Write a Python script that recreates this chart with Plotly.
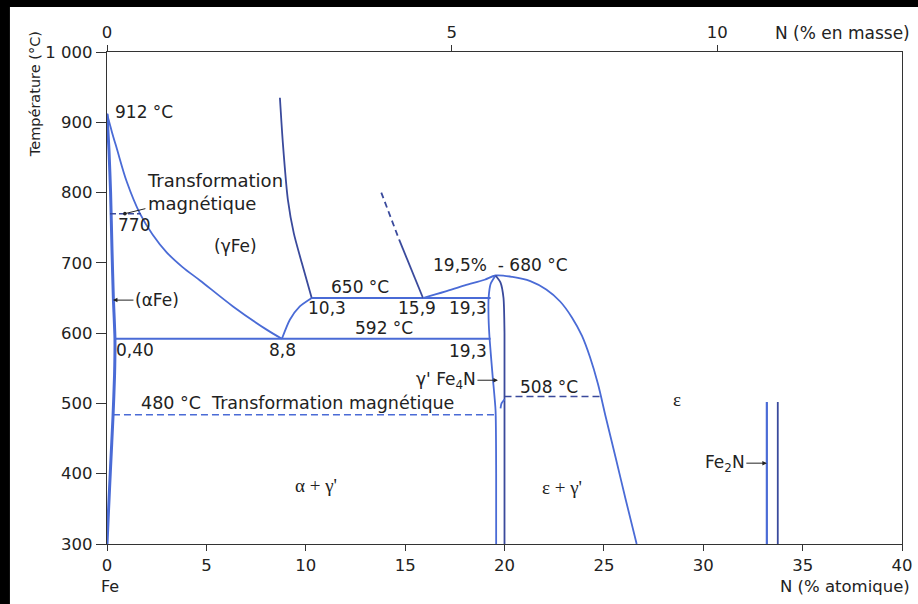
import plotly.graph_objects as go

# ---------------- data ----------------
# x = N (% atomique), T = temperature (°C)
alpha_x = [0, 0.1, 0.18, 0.25, 0.32, 0.4, 0.38, 0.3, 0.18, 0.08, 0]
alpha_T = [912, 860, 800, 720, 650, 592, 540, 480, 410, 350, 300]

a3_x = [0, 0.25, 0.5, 1.0, 1.66, 2.3, 3.0, 3.8, 4.68, 6.34, 8.03, 8.8]
a3_T = [912, 886, 862, 815, 770, 740, 715, 694, 675, 638, 605, 592]

gp_x = [8.8, 9.2, 9.7, 10.3]
gp_T = [592, 619, 638, 650]

ge_x = [8.7, 8.85, 9.1, 9.4, 9.8, 10.3]
ge_T = [935, 870, 790, 742, 700, 650]

eut650_x = [10.3, 19.3]
eut650_T = [650, 650]

eut592_x = [0.4, 19.3]
eut592_T = [592, 592]

l159_x = [14.7, 15.9]
l159_T = [733, 650]
l159d_x = [13.8, 14.7]
l159d_T = [800, 733]

eps_x = [15.9, 17.0, 18.0, 19.0, 19.55, 20.4, 21.3, 22.1, 22.8, 23.4, 23.9, 24.3, 24.7, 25.1, 25.6, 26.1, 26.65]
eps_T = [650, 659, 668, 676, 682, 680, 674, 662, 645, 622, 596, 566, 528, 480, 422, 363, 300]

gpl_x = [19.55, 19.3, 19.2, 19.2, 19.25, 19.4, 19.55, 19.58, 19.58]
gpl_T = [682, 670, 650, 620, 592, 540, 490, 400, 300]

gpr_x = [19.55, 19.8, 19.95, 20.0, 20.0]
gpr_T = [682, 672, 650, 600, 300]

kink_x = [19.8, 19.85, 20.0]
kink_T = [493, 500, 506]

mag480_x = [0.3, 19.55]
mag480_T = [484, 484]

mag508_x = [20.0, 24.8]
mag508_T = [510, 510]

mag770_x = [0.15, 1.7]
mag770_T = [770, 770]

fe2n_a_x = [33.2, 33.2]
fe2n_b_x = [33.75, 33.75]
fe2n_T = [300, 502]

y_ticks = [300, 400, 500, 600, 700, 800, 900, 1000]
y_ticktext = ["300", "400", "500", "600", "700", "800", "900", "1\u00a0000"]
x_ticks = [0, 5, 10, 15, 20, 25, 30, 35, 40]
mass_ticks = [0, 5, 10]


def mass_to_atomic(w):
    # N mass % -> N atomic % in Fe-N
    n = w / 14.007
    fe = (100 - w) / 55.845
    return 100 * n / (n + fe)


mass_tick_pos = [mass_to_atomic(w) for w in mass_ticks]

BLUE = "#4a6bd6"
DARK = "#3a4a9c"
FONT = "DejaVu Sans"
TXT = "#222222"
FS = 17

fig = go.Figure()


def line(x, y, color=BLUE, width=1.8, dash="solid", smoothing=0.6):
    fig.add_trace(go.Scatter(x=x, y=y, mode="lines", hoverinfo="skip",
                             line=dict(color=color, width=width, dash=dash,
                                       shape="spline", smoothing=smoothing)))


line(alpha_x, alpha_T, width=3)
line(a3_x, a3_T, smoothing=1.0)
line(gp_x, gp_T)
line(ge_x, ge_T, color=DARK)
line(eut650_x, eut650_T)
line(eut592_x, eut592_T, width=2)
line(l159_x, l159_T, color=DARK)
line(l159d_x, l159d_T, color=DARK, dash="6px,4px")
line(eps_x, eps_T, smoothing=0.9)
line(gpl_x, gpl_T)
line(gpr_x, gpr_T, color=DARK)
line(kink_x, kink_T)
line(mag480_x, mag480_T, width=1.5, dash="7px,4px")
line(mag508_x, mag508_T, color=DARK, width=1.5, dash="7px,4px")
line(mag770_x, mag770_T, color=DARK, width=1.5, dash="6px,3px")
line(fe2n_a_x, fe2n_T, width=2.2)
line(fe2n_b_x, fe2n_T, color=DARK, width=1.8)

# invisible trace to activate the top (mass %) axis
fig.add_trace(go.Scatter(x=mass_tick_pos, y=[1000] * len(mass_tick_pos), xaxis="x2",
                         mode="markers", marker=dict(opacity=0), hoverinfo="skip"))


def label(text, x, y, size=FS, xanchor="center", family=FONT, **kw):
    fig.add_annotation(text=text, x=x, y=y, xref="x", yref="y", showarrow=False,
                       xanchor=xanchor, yanchor="middle",
                       font=dict(family=family, size=size, color=TXT), **kw)


label("912 °C", 0.3, 915, xanchor="left")
label("770", 0.45, 754, xanchor="left")
label("(γFe)", 6.44, 724)
label("650 °C", 12.73, 666)
label("10,3", 11.07, 636)
label("15,9", 15.6, 636)
label("19,3", 18.16, 636)
label("592 °C", 13.93, 607)
label("0,40", 1.41, 576)
label("8,8", 8.83, 576)
label("19,3", 18.16, 575)
label("19,5%\u00a0\u00a0-\u00a0680 °C", 16.3, 697, xanchor="left")
label("508 °C", 22.26, 523)
label("480 °C\u00a0\u00a0Transformation magnétique", 9.6, 501, size=17.5)
label("ε", 28.7, 505, size=19, family="Liberation Serif")
label("α + γ'", 10.5, 383, size=19, family="Liberation Serif")
label("ε + γ'", 22.9, 381, size=19, family="Liberation Serif")


def arrow_label(text, x, y, ax, ay, head=2, size=FS, align="center"):
    fig.add_annotation(text=text, x=x, y=y, xref="x", yref="y", showarrow=True,
                       ax=ax, ay=ay, arrowhead=head, arrowsize=0.9, arrowwidth=1,
                       arrowcolor=TXT, standoff=0, align=align,
                       font=dict(family=FONT, size=size, color=TXT))


arrow_label("Transformation<br>magnétique", 0.9, 770, 90, -22, head=6, size=18, align="left")
arrow_label("(αFe)", 0.3, 647, 44, 0)
arrow_label("γ' Fe<sub>4</sub>N", 19.67, 533, -52, 0)
arrow_label("Fe<sub>2</sub>N", 33.2, 415, -42, 0)

# axis titles / extra texts
fig.add_annotation(text="Température (°C)", xref="paper", x=0, xshift=-72, yref="y", y=940,
                   textangle=-90, showarrow=False, xanchor="center", yanchor="middle",
                   font=dict(family=FONT, size=14.5, color=TXT))
fig.add_annotation(text="N (% atomique)", xref="paper", x=1, xshift=10, yref="paper", y=0, yshift=-42,
                   showarrow=False, xanchor="right", yanchor="middle",
                   font=dict(family=FONT, size=16.5, color=TXT))
fig.add_annotation(text="N (% en masse)", xref="paper", x=1, xshift=10, yref="paper", y=1, yshift=19,
                   showarrow=False, xanchor="right", yanchor="middle",
                   font=dict(family=FONT, size=17, color=TXT))
fig.add_annotation(text="Fe", xref="x", x=0.15, yref="paper", y=0, yshift=-42,
                   showarrow=False, xanchor="center", yanchor="middle",
                   font=dict(family=FONT, size=16, color=TXT))

# black frame pieces of the scanned picture (top and left)
fig.add_shape(type="rect", xref="paper", yref="paper", x0=-0.2, x1=1.1, y0=1.0915, y1=1.2,
              fillcolor="black", line=dict(width=0), layer="above")
fig.add_shape(type="rect", xref="paper", yref="paper", x0=-0.2, x1=-0.1221, y0=-0.2, y1=1.2,
              fillcolor="black", line=dict(width=0), layer="above")

axis_common = dict(showgrid=False, zeroline=False, showline=True, linecolor="#333333",
                   linewidth=1.3, ticks="outside", tickcolor="#333333", tickwidth=1.2,
                   tickfont=dict(family=FONT, size=16.5, color=TXT))

fig.update_layout(
    width=918, height=604,
    margin=dict(l=107, r=16, t=52, b=60, autoexpand=False),
    paper_bgcolor="white", plot_bgcolor="white",
    showlegend=False,
    xaxis=dict(range=[0, 40], tickvals=x_ticks, ticklen=6, **axis_common),
    xaxis2=dict(range=[0, 40], overlaying="x", side="top", tickvals=mass_tick_pos,
                ticktext=[str(w) for w in mass_ticks], ticklen=6, **axis_common),
    yaxis=dict(range=[300, 1000], tickvals=y_ticks, ticktext=y_ticktext, ticklen=10,
               mirror=True, **axis_common),
)

fig.write_html("out.html", config={"displayModeBar": False},
               post_script="document.body.style.margin='0';document.body.style.padding='0';"
                           "document.body.style.overflow='hidden';")
